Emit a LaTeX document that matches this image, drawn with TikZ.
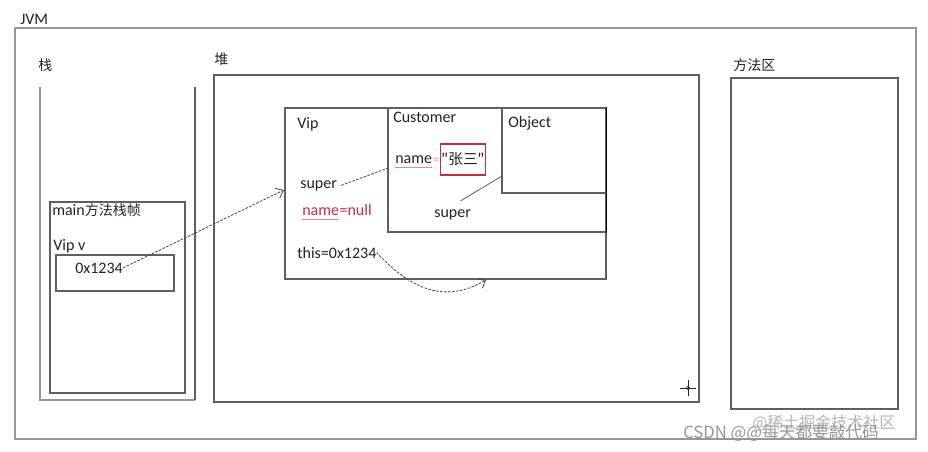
\documentclass[tikz,border=0pt]{standalone}
\usepackage{fontspec}
\setmainfont{Carlito}
\newfontfamily\cjk{Noto Sans CJK SC}
\usetikzlibrary{arrows.meta,fit}
\definecolor{frame}{RGB}{95,95,95}
\definecolor{light}{RGB}{150,150,150}
\definecolor{txt}{RGB}{35,35,35}
\definecolor{redc}{RGB}{195,45,70}
\definecolor{pinkc}{RGB}{232,135,155}
\definecolor{wm}{RGB}{150,150,150}
\begin{document}
\begin{tikzpicture}[x=0.75pt,y=-0.75pt,
  box/.style={draw=frame, line width=0.8pt, inner sep=0pt},
  lbl/.style={anchor=base west, inner sep=0pt, text=txt, font=\fontsize{12}{14}\selectfont},
  cjklbl/.style={anchor=base west, inner sep=0pt, text=txt, font=\cjk\fontsize{10.5}{12}\selectfont},
  link/.style={draw=txt!85, line width=0.6pt, dash pattern=on 2pt off 1pt},
  tipend/.style={-{Straight Barb[length=5pt,width=8pt]}},
  uline/.style={draw=pinkc, line width=0.7pt}]
\useasboundingbox (0,0) rectangle (928,451);
\fill[white] (0,0) rectangle (928,451);

% ---- box corners ----
\coordinate (jvmA) at (15,28);   \coordinate (jvmB) at (916,439);
\coordinate (frA) at (50,202);   \coordinate (frB) at (185,393);
\coordinate (vvA) at (56,255);   \coordinate (vvB) at (174,291);
\coordinate (heapA) at (214,75); \coordinate (heapB) at (699,402);
\coordinate (vipA) at (285,108); \coordinate (vipB) at (606,279);
\coordinate (cusA) at (388,108); \coordinate (cusB) at (606,232);
\coordinate (objA) at (502,108); \coordinate (objB) at (606,193);
\coordinate (maA) at (731,78);   \coordinate (maB) at (898,409);

% ---- boxes ----
\node[box, draw=light, fit=(jvmA)(jvmB)] (jvm) {};
\draw[light, line width=0.8pt] (40,87) -- (40,400) -- (195,400);
\draw[frame, line width=0.8pt] (195,400) -- (195,87);
\node[box, fit=(frA)(frB)] (frame) {};
\node[box, fit=(vvA)(vvB)] (vv) {};
\node[box, fit=(heapA)(heapB)] (heap) {};
\node[box, fit=(vipA)(vipB)] (vip) {};
\node[box, fit=(cusA)(cusB)] (cus) {};
\node[box, fit=(objA)(objB)] (obj) {};
\draw[black, line width=1.2pt] (obj.north east) -- (cus.south east);
\node[box, fit=(maA)(maB)] (ma) {};

% ---- labels ----
\node[lbl] (tjvm) at (20,24) {JVM};
\node[cjklbl] (tzhan) at (38,70) {栈};
\node[cjklbl] (tdui) at (214,64) {堆};
\node[cjklbl] (tfa) at (733,70) {方法区};
\node[lbl] (tmain) at (52,215) {main{\cjk\fontsize{10.5}{12}\selectfont 方法栈帧}};
\node[lbl] (tvipv) at (53,250) {Vip v};
\node[lbl] (taddr) at (75,273) {0x1234};
\node[lbl] (tvip) at (297,128) {Vip};
\node[lbl] (tcus) at (393,122) {Customer};
\node[lbl] (tobj) at (508,127) {Object};
\node[lbl] (tsup1) at (300,188) {super};
\node[lbl, text=redc] (vname) at (302,215) {name};
\node[lbl, text=redc, anchor=base west] (vnull) at (vname.base east) {=null};
\node[lbl] (cname) at (395,163) {name};
\node[lbl, text=pinkc, anchor=base west, font=\fontsize{9}{10}\selectfont] (ceq) at ([xshift=0.3pt]cname.base east) {=};
\node[draw=redc, line width=0.8pt, minimum width=33.75pt, minimum height=23.25pt, inner sep=0pt,
      text=txt, font=\cjk\fontsize{11}{13}\selectfont] (zs) at (463,159.5) {"张三"};
\node[lbl] (tsup2) at (434,217) {super};
\node[lbl] (tthis) at (297,258) {this=0x1234};

% ---- spell-check underlines ----
\draw[uline] ([yshift=-3pt]vname.base west) -- ([yshift=-3pt]vname.base east);
\draw[uline] ([yshift=-3pt]cname.base west) -- ([yshift=-3pt]cname.base east);

% ---- connectors ----
\coordinate (vipin) at (284,190);
\coordinate (cusin) at (388,168);
\coordinate (objin) at (502,176);
\coordinate (thisend) at (486,280);
\draw[link, tipend] (taddr.east) -- (vipin);
\draw[link] ([xshift=3pt]tsup1.east) -- (cusin);
\draw[draw=txt!75, line width=0.6pt] ([xshift=-8pt,yshift=6pt]tsup2.north east) -- (objin);
\draw[link, tipend] (tthis.east) .. controls (420,300) and (455,298) .. (thisend);

% ---- cursor ----
\coordinate (cur) at (688,388);
\draw[txt, line width=0.5pt] ([xshift=-6pt]cur) -- ([xshift=6pt]cur) ([yshift=-6pt]cur) -- ([yshift=6pt]cur);
\draw[txt, line width=0.4pt] (cur) circle (1.4pt);

% ---- watermark ----
\node[anchor=base west, inner sep=0pt, text=wm!70, font=\cjk\fontsize{12}{14}\selectfont] (wm2) at (752,428) {@稀土掘金技术社区};
\node[anchor=base west, inner sep=0pt, text=wm, font=\cjk\fontsize{12.5}{14}\selectfont] (wm1) at (683,438) {CSDN @@每天都要敲代码};
\end{tikzpicture}
\end{document}
